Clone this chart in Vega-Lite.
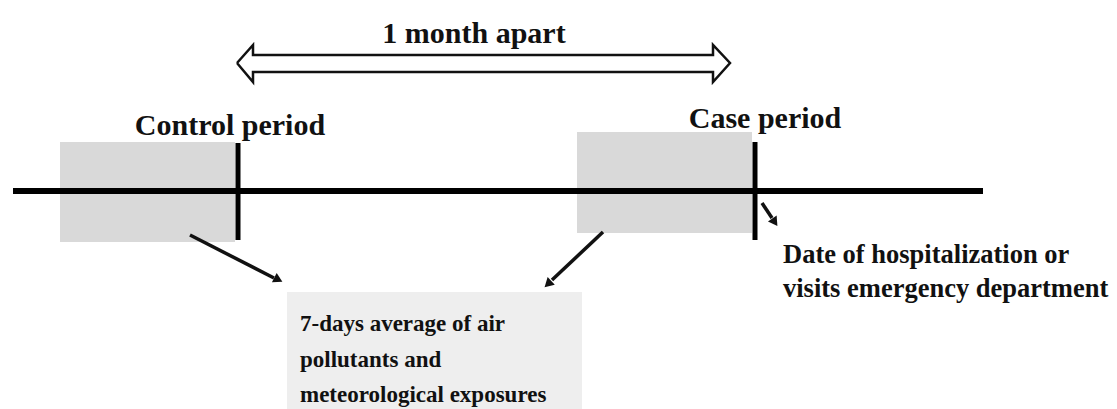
{
  "$schema": "https://vega.github.io/schema/vega-lite/v6.json",
  "width": 1117,
  "height": 409,
  "autosize": {"type": "fit", "contains": "padding"},
  "padding": 0,
  "background": "white",
  "config": {"view": {"stroke": null}},
  "datasets": {
    "boxes": [
      {"name": "control", "x": 60, "x2": 235, "y": 142, "y2": 242},
      {"name": "case", "x": 577, "x2": 752, "y": 132, "y2": 233}
    ],
    "note": [
      {"name": "exposure", "x": 287, "x2": 582, "y": 292, "y2": 409}
    ],
    "timeline": [
      {"x": 13, "x2": 983, "y": 191, "y2": 191}
    ],
    "ticks": [
      {"x": 238, "x2": 238, "y": 143, "y2": 240},
      {"x": 755, "x2": 755, "y": 142, "y2": 240}
    ],
    "shafts": [
      {"x": 190, "x2": 274, "y": 235, "y2": 278},
      {"x": 603, "x2": 552, "y": 232, "y2": 280},
      {"x": 762, "x2": 772, "y": 203, "y2": 218}
    ],
    "heads": [
      {"x": 277, "y": 279, "angle": 117},
      {"x": 549, "y": 283, "angle": 227},
      {"x": 774, "y": 221, "angle": 146}
    ],
    "double": [
      {"i": 0, "x": 237, "y": 63},
      {"i": 1, "x": 253, "y": 45},
      {"i": 2, "x": 253, "y": 55},
      {"i": 3, "x": 713, "y": 55},
      {"i": 4, "x": 713, "y": 45},
      {"i": 5, "x": 730, "y": 63},
      {"i": 6, "x": 713, "y": 82},
      {"i": 7, "x": 713, "y": 72},
      {"i": 8, "x": 253, "y": 72},
      {"i": 9, "x": 253, "y": 82},
      {"i": 10, "x": 237, "y": 63}
    ],
    "titles": [
      {"x": 474, "y": 43, "text": "1 month apart"},
      {"x": 230, "y": 135, "text": "Control period"},
      {"x": 765, "y": 128, "text": "Case period"}
    ],
    "dateText": [
      {"x": 783, "y": 263, "text": "Date of hospitalization  or"},
      {"x": 783, "y": 297, "text": "visits emergency department"}
    ],
    "noteText": [
      {"x": 300, "y": 331, "text": "7-days average of air"},
      {"x": 300, "y": 367, "text": "pollutants and"},
      {"x": 300, "y": 402, "text": "meteorological  exposures"}
    ]
  },
  "encoding": {
    "x": {"field": "x", "type": "quantitative", "scale": {"domain": [0, 1117], "nice": false, "zero": false}, "axis": null},
    "y": {"field": "y", "type": "quantitative", "scale": {"domain": [0, 409], "reverse": true, "nice": false, "zero": false}, "axis": null}
  },
  "layer": [
    {
      "data": {"name": "boxes"},
      "mark": {"type": "rect", "color": "#d9d9d9"},
      "encoding": {"x2": {"field": "x2"}, "y2": {"field": "y2"}}
    },
    {
      "data": {"name": "note"},
      "mark": {"type": "rect", "color": "#eeeeee"},
      "encoding": {"x2": {"field": "x2"}, "y2": {"field": "y2"}}
    },
    {
      "data": {"name": "timeline"},
      "mark": {"type": "rule", "color": "#000000", "strokeWidth": 6},
      "encoding": {"x2": {"field": "x2"}, "y2": {"field": "y2"}}
    },
    {
      "data": {"name": "ticks"},
      "mark": {"type": "rule", "color": "#000000", "strokeWidth": 5},
      "encoding": {"x2": {"field": "x2"}, "y2": {"field": "y2"}}
    },
    {
      "data": {"name": "shafts"},
      "mark": {"type": "rule", "color": "#111111", "strokeWidth": 3.5},
      "encoding": {"x2": {"field": "x2"}, "y2": {"field": "y2"}}
    },
    {
      "data": {"name": "heads"},
      "mark": {"type": "point", "shape": "triangle", "filled": true, "color": "#111111", "size": 110, "opacity": 1},
      "encoding": {"angle": {"field": "angle", "type": "quantitative", "scale": null}}
    },
    {
      "data": {"name": "double"},
      "mark": {"type": "line", "color": "#111111", "strokeWidth": 2.5, "strokeJoin": "miter"},
      "encoding": {"order": {"field": "i", "type": "quantitative"}}
    },
    {
      "data": {"name": "titles"},
      "mark": {"type": "text", "font": "Liberation Serif", "fontWeight": "bold", "fontSize": 30, "align": "center", "baseline": "alphabetic", "color": "#111111"},
      "encoding": {"text": {"field": "text"}}
    },
    {
      "data": {"name": "dateText"},
      "mark": {"type": "text", "font": "Liberation Serif", "fontWeight": "bold", "fontSize": 26.5, "align": "left", "baseline": "alphabetic", "color": "#111111"},
      "encoding": {"text": {"field": "text"}}
    },
    {
      "data": {"name": "noteText"},
      "mark": {"type": "text", "font": "Liberation Serif", "fontWeight": "bold", "fontSize": 23, "align": "left", "baseline": "alphabetic", "color": "#111111"},
      "encoding": {"text": {"field": "text"}}
    }
  ]
}
